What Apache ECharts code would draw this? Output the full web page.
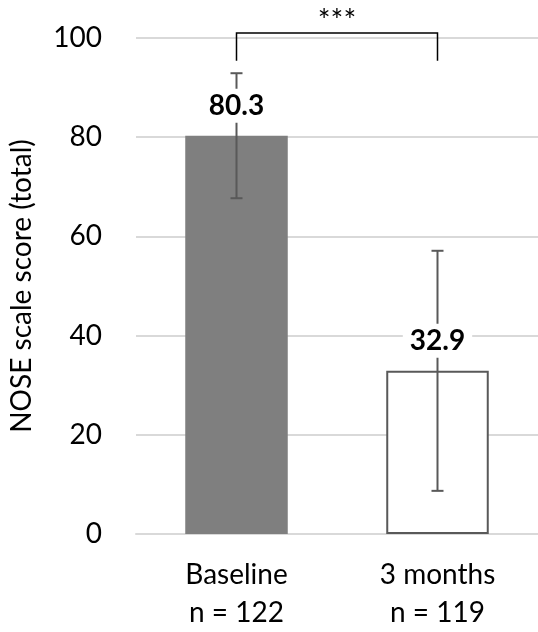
<!DOCTYPE html>
<html>
<head>
<meta charset="utf-8">
<script src="https://cdn.jsdelivr.net/npm/echarts@6/dist/echarts.min.js"></script>
<style>
  html, body { margin: 0; padding: 0; background: #fff; }
  #chart { width: 538px; height: 632px; }
</style>
</head>
<body>
<div id="chart"></div>
<script>
const categories = ['Baseline\nn = 122', '3 months\nn = 119'];
const means = [80.3, 32.9];
const errors = [12.6, 24.2];
const barColors = ['#7f7f7f', '#ffffff'];
const yTicks = { min: 0, max: 100, interval: 20 };
const sigText = '***';
const bracketTop = 101;
const bracketFoot = 95.4;

const chart = echarts.init(document.getElementById('chart'));
const font = 'Lato, "Noto Sans", sans-serif';

// error bars + value labels (labels sit over the whiskers with a white box)
const renderError = (params, api) => {
    const i = api.value(0);
    const mean = api.value(1);
    const err = api.value(2);
    const hi = api.coord([i, mean + err]);
    const lo = api.coord([i, mean - err]);
    const top = api.coord([i, mean]);
    const cap = 6;
    const style = { stroke: '#595959', lineWidth: 2 };
    return {
        type: 'group',
        children: [
            { type: 'line', shape: { x1: hi[0], y1: hi[1], x2: lo[0], y2: lo[1] }, style },
            { type: 'line', shape: { x1: hi[0] - cap, y1: hi[1], x2: hi[0] + cap, y2: hi[1] }, style },
            { type: 'line', shape: { x1: lo[0] - cap, y1: lo[1], x2: lo[0] + cap, y2: lo[1] }, style },
            {
                type: 'text',
                z2: 10,
                x: top[0],
                y: top[1] - 30,
                style: {
                    text: String(mean),
                    font: 'bold 28px ' + font,
                    fill: '#000',
                    align: 'center',
                    verticalAlign: 'middle',
                    backgroundColor: '#fff',
                    padding: [3, 7]
                }
            }
        ]
    };
};

const renderBracket = (params, api) => {
    if (params.dataIndex !== 0) return null;
    const a = api.coord([0, bracketFoot]);
    const b = api.coord([0, bracketTop]);
    const c = api.coord([1, bracketTop]);
    const d = api.coord([1, bracketFoot]);
    return {
        type: 'group',
        children: [
            {
                type: 'polyline',
                shape: { points: [a, b, c, d] },
                style: { stroke: '#000', lineWidth: 1.5, fill: null }
            },
            {
                type: 'text',
                x: (b[0] + c[0]) / 2,
                y: b[1] - 12,
                style: {
                    text: sigText,
                    font: '30px ' + font,
                    fill: '#000',
                    align: 'center',
                    verticalAlign: 'middle'
                }
            }
        ]
    };
};

chart.setOption({
    animation: false,
    backgroundColor: '#fff',
    grid: { left: 136, right: 0, top: 38, bottom: 92 },
    xAxis: {
        type: 'category',
        data: categories,
        axisLine: { lineStyle: { color: '#d9d9d9', width: 2 } },
        axisTick: { show: false },
        axisLabel: {
            color: '#000',
            fontFamily: font,
            fontSize: 28,
            lineHeight: 38,
            margin: 22
        }
    },
    yAxis: {
        type: 'value',
        min: yTicks.min,
        max: yTicks.max,
        interval: yTicks.interval,
        name: 'NOSE scale score (total)',
        nameLocation: 'middle',
        nameGap: 100,
        nameTextStyle: { color: '#000', fontFamily: font, fontSize: 28 },
        axisLine: { show: false },
        axisTick: { show: false },
        axisLabel: { color: '#000', fontFamily: font, fontSize: 28, margin: 34 },
        splitLine: { lineStyle: { color: '#d9d9d9', width: 2 } }
    },
    series: [
        {
            type: 'bar',
            barWidth: '51%',
            data: means.map((v, i) => ({
                value: v,
                itemStyle: {
                    color: barColors[i],
                    borderColor: i === 0 ? barColors[i] : '#595959',
                    borderWidth: i === 0 ? 0 : 2
                }
            })),
            z: 2
        },
        {
            type: 'custom',
            renderItem: renderError,
            data: means.map((v, i) => [i, v, errors[i]]),
            z: 3
        },
        {
            type: 'custom',
            renderItem: renderBracket,
            data: [[0]],
            z: 3
        }
    ]
});
</script>
</body>
</html>
